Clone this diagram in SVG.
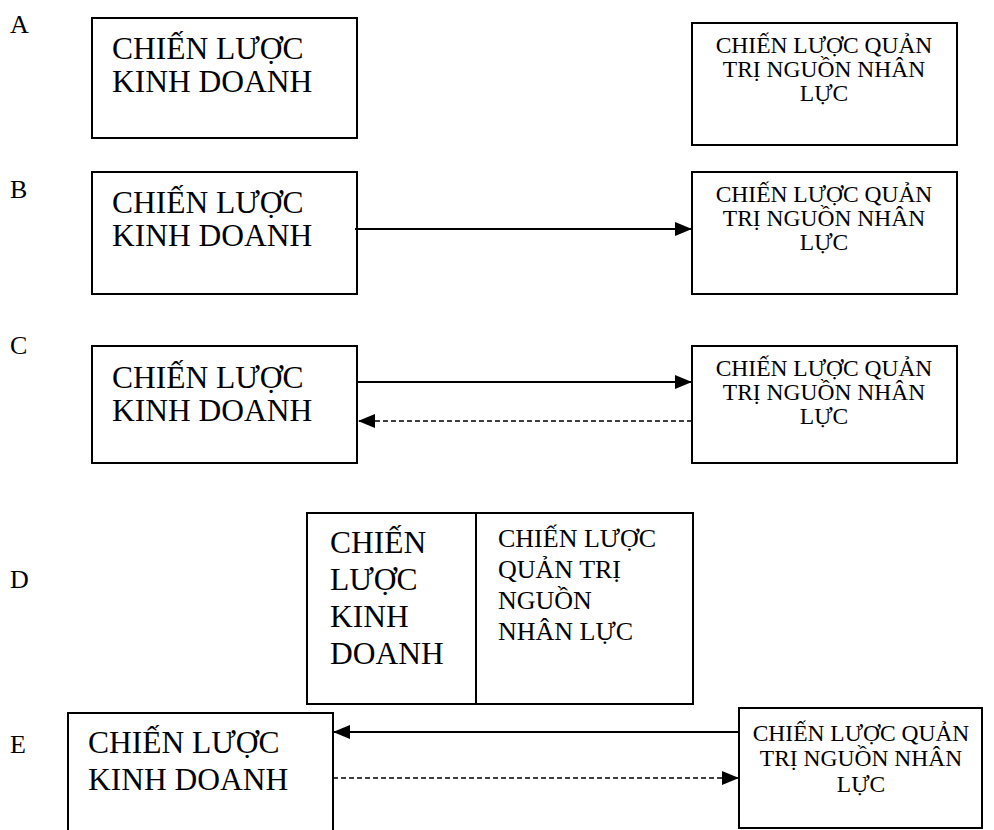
<svg xmlns="http://www.w3.org/2000/svg" width="994" height="830" viewBox="0 0 994 830">
<style>
.box{fill:#fff;stroke:#000;stroke-width:2}
.big{font-family:"Liberation Serif","Times New Roman",serif;font-size:31.5px;fill:#000}
.sm{font-family:"Liberation Serif","Times New Roman",serif;font-size:23.5px;fill:#000;text-anchor:middle}
.dsm{font-family:"Liberation Serif","Times New Roman",serif;font-size:26px;fill:#000}
.lbl{font-family:"Liberation Serif","Times New Roman",serif;font-size:26px;fill:#000}
.ln{stroke:#000;stroke-width:2;fill:none}
.dash{stroke:#000;stroke-width:1.6;fill:none;stroke-dasharray:5 3}
</style>
<defs>
<marker id="ah" markerUnits="userSpaceOnUse" markerWidth="18" markerHeight="16" refX="17" refY="7" orient="auto">
<path d="M0,0 L17,7 L0,14 Z" fill="#000"/>
</marker>
</defs>
<g id="labels">
<text class="lbl" x="10" y="33">A</text>
<text class="lbl" x="10" y="198">B</text>
<text class="lbl" x="10" y="354">C</text>
<text class="lbl" x="10" y="588">D</text>
<text class="lbl" x="10" y="753">E</text>
</g>
<g id="A-kd">
<rect class="box" x="92" y="18" width="265" height="120"/>
<text class="big" x="112" y="59">CHIẾN LƯỢC</text>
<text class="big" x="112" y="92">KINH DOANH</text>
</g>
<g id="A-ns">
<rect class="box" x="692" y="23" width="265" height="122"/>
<text class="sm" x="824" y="53">CHIẾN LƯỢC QUẢN</text>
<text class="sm" x="824" y="77">TRỊ NGUỒN NHÂN</text>
<text class="sm" x="824" y="101">LỰC</text>
</g>
<g id="B-kd">
<rect class="box" x="92" y="172" width="265" height="122"/>
<text class="big" x="112" y="213">CHIẾN LƯỢC</text>
<text class="big" x="112" y="246">KINH DOANH</text>
</g>
<g id="B-ns">
<rect class="box" x="692" y="172" width="265" height="122"/>
<text class="sm" x="824" y="202">CHIẾN LƯỢC QUẢN</text>
<text class="sm" x="824" y="226">TRỊ NGUỒN NHÂN</text>
<text class="sm" x="824" y="250">LỰC</text>
</g>
<g id="C-kd">
<rect class="box" x="92" y="346" width="265" height="117"/>
<text class="big" x="112" y="388">CHIẾN LƯỢC</text>
<text class="big" x="112" y="421">KINH DOANH</text>
</g>
<g id="C-ns">
<rect class="box" x="692" y="346" width="265" height="117"/>
<text class="sm" x="824" y="376">CHIẾN LƯỢC QUẢN</text>
<text class="sm" x="824" y="400">TRỊ NGUỒN NHÂN</text>
<text class="sm" x="824" y="424">LỰC</text>
</g>
<g id="D">
<rect class="box" x="307" y="513" width="386" height="191"/>
<line class="ln" x1="476" y1="513" x2="476" y2="704"/>
<text class="big" x="330" y="553">CHIẾN</text>
<text class="big" x="330" y="590">LƯỢC</text>
<text class="big" x="330" y="627">KINH</text>
<text class="big" x="330" y="664">DOANH</text>
<text class="dsm" x="498" y="547">CHIẾN LƯỢC</text>
<text class="dsm" x="498" y="578">QUẢN TRỊ</text>
<text class="dsm" x="498" y="609">NGUỒN</text>
<text class="dsm" x="498" y="640">NHÂN LỰC</text>
</g>
<g id="E-kd">
<rect class="box" x="68" y="713" width="265" height="130"/>
<text class="big" x="88" y="753">CHIẾN LƯỢC</text>
<text class="big" x="88" y="790">KINH DOANH</text>
</g>
<g id="E-ns">
<rect class="box" x="739" y="708" width="243" height="120"/>
<text class="sm" x="861" y="741">CHIẾN LƯỢC QUẢN</text>
<text class="sm" x="861" y="766">TRỊ NGUỒN NHÂN</text>
<text class="sm" x="861" y="792">LỰC</text>
</g>
<g id="connectors">
<line class="ln" x1="355" y1="229" x2="692" y2="229" marker-end="url(#ah)"/>
<line class="ln" x1="357" y1="382" x2="692" y2="382" marker-end="url(#ah)"/>
<line class="dash" x1="692" y1="421" x2="358" y2="421" marker-end="url(#ah)"/>
<line class="ln" x1="739" y1="732" x2="333" y2="732" marker-end="url(#ah)"/>
<line class="dash" x1="333" y1="778" x2="739" y2="778" marker-end="url(#ah)"/>
</g>
</svg>
